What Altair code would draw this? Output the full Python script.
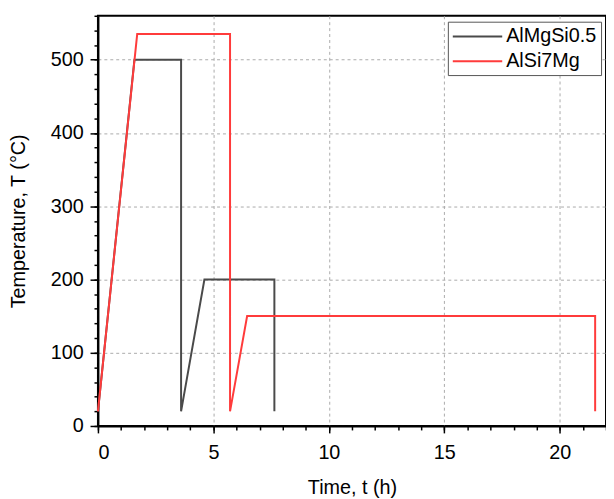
import altair as alt
import pandas as pd

alloy_names = ["AlMgSi0.5", "AlSi7Mg"]
t_almgsi = [0, 1.58, 3.6, 3.6, 4.61, 7.64, 7.64]
T_almgsi = [20, 500, 500, 20, 200, 200, 20]
t_alsi = [0, 1.7, 5.72, 5.72, 6.46, 21.53, 21.53]
T_alsi = [20, 535, 535, 20, 150, 150, 20]
line_colors = ["#4a4a4a", "#ff3b3b"]

x_major = [0, 5, 10, 15, 20]
x_minor = list(range(0, 23))
y_major = [0, 100, 200, 300, 400, 500]
y_minor = list(range(0, 561, 20))

rows = []
for name, ts, Ts in [(alloy_names[0], t_almgsi, T_almgsi), (alloy_names[1], t_alsi, T_alsi)]:
    for i, (t, T) in enumerate(zip(ts, Ts)):
        rows.append({"alloy": name, "t": t, "T": T, "order": i})
df = pd.DataFrame(rows)

FONT = "Liberation Sans"
xscale = alt.Scale(domain=[0, 22], nice=False, zero=False)
yscale = alt.Scale(domain=[0, 560], nice=False)

main = alt.Chart(df).mark_line(strokeWidth=2).encode(
    x=alt.X("t:Q", scale=xscale,
            axis=alt.Axis(orient="bottom", values=x_major, title="Time, t (h)", grid=True,
                          tickSize=7, labelPadding=10, titlePadding=15, format="d")),
    y=alt.Y("T:Q", scale=yscale,
            axis=alt.Axis(orient="left", values=y_major, title="Temperature, T (°C)", grid=True,
                          tickSize=8, labelPadding=7, titlePadding=22, format="d")),
    color=alt.Color("alloy:N", sort=alloy_names,
                    scale=alt.Scale(domain=alloy_names, range=line_colors),
                    legend=alt.Legend(title=None, orient="none", legendX=354, legendY=6,
                                      symbolType="M-1,0L4,0", symbolSize=400,
                                      symbolStrokeWidth=2, labelFontSize=20,
                                      labelFont=FONT, labelColor="black",
                                      strokeColor="#555555", fillColor="white",
                                      padding=4, labelOffset=33, rowPadding=4)),
    order=alt.Order("order:Q"),
)

minor = alt.Chart(df).mark_point(opacity=0).encode(
    x=alt.X("t:Q", scale=xscale,
            axis=alt.Axis(orient="bottom", values=x_minor, labels=False, title="", grid=False,
                          tickSize=4, domain=False)),
    y=alt.Y("T:Q", scale=yscale,
            axis=alt.Axis(orient="left", values=y_minor, labels=False, title="", grid=False,
                          tickSize=4, domain=False)),
)

chart = alt.layer(minor, main).resolve_axis(x="independent", y="independent").properties(
    width=514, height=415,
    autosize=alt.AutoSizeParams(type="none"),
    padding={"left": 91, "top": 5, "right": 0, "bottom": 70},
).configure_axis(
    labelFont=FONT, titleFont=FONT, labelFontSize=20, titleFontSize=20,
    labelColor="black", titleColor="black", titleFontWeight="normal",
    domainColor="black", domainWidth=2, tickColor="black", tickWidth=1.5,
    gridColor="#aaaaaa", gridDash=[3, 3], gridWidth=1,
).configure_view(stroke="black", strokeWidth=2)

chart.save("out.html", embed_options={"renderer": "svg", "actions": False})
